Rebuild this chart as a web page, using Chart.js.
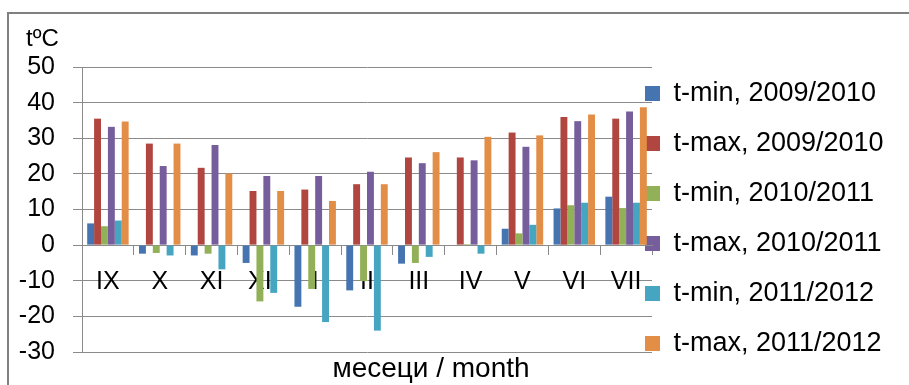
<!DOCTYPE html>
<html>
<head>
<meta charset="utf-8">
<script src="https://cdn.jsdelivr.net/npm/chart.js@4/dist/chart.umd.min.js"></script>
<style>
  html, body { margin: 0; padding: 0; background: #ffffff; }
  #wrap { width: 909px; height: 385px; }
</style>
</head>
<body>
<div id="wrap"><canvas id="c" width="909" height="385"></canvas></div>
<script>
// ---- data ----
const months = ['IX', 'X', 'XI', 'XII', 'I', 'II', 'III', 'IV', 'V', 'VI', 'VII'];
const seriesNames = ['t-min, 2009/2010', 't-max, 2009/2010', 't-min, 2010/2011',
                     't-max, 2010/2011', 't-min, 2011/2012', 't-max, 2011/2012'];
const tmin0910 = [6.1, -2.4, -2.9, -5.0, -17.3, -12.7, -5.2, 0, 4.6, 10.3, 13.6];
const tmax0910 = [35.5, 28.5, 21.7, 15.2, 15.6, 17.1, 24.6, 24.6, 31.6, 36.0, 35.5];
const tmin1011 = [5.3, -2.2, -2.4, -15.8, -12.3, -10.1, -5.0, 0.3, 3.3, 11.2, 10.4];
const tmax1011 = [33.2, 22.2, 28.1, 19.4, 19.4, 20.6, 23.0, 23.8, 27.6, 34.8, 37.5];
const tmin1112 = [6.9, -2.9, -6.8, -13.4, -21.6, -24.0, -3.3, -2.4, 5.7, 11.9, 11.9];
const tmax1112 = [34.7, 28.5, 20.1, 15.2, 12.4, 17.1, 26.1, 30.4, 30.8, 36.7, 38.7];
const yTickMin = -30;
const yTickMax = 50;
const yTickStep = 10;
const yUnitLabel = 't\u00BAC';
const xTitle = 'месеци / month';

// ---- styles ----
const colors = ['#4674B0', '#B0463F', '#92B057', '#765D9C', '#46A5C1', '#E38E47'];
const FONT = "'Liberation Sans', Arial, sans-serif";
const GRID = '#8a8a8a';

const allSeries = [tmin0910, tmax0910, tmin1011, tmax1011, tmin1112, tmax1112];
const datasets = allSeries.map((d, i) => ({
  label: seriesNames[i],
  data: d,
  backgroundColor: colors[i],
  borderWidth: 0,
  categoryPercentage: 0.8,
  barPercentage: 1.0
}));

// frame + free texts (unit label and x-axis title)
const decor = {
  id: 'decor',
  beforeDraw(chart) {
    const ctx = chart.ctx;
    ctx.save();
    ctx.strokeStyle = '#808080';
    ctx.lineWidth = 2;
    ctx.strokeRect(8, 13, 940, 420);
    ctx.restore();
  },
  afterDraw(chart) {
    const ctx = chart.ctx;
    ctx.save();
    ctx.fillStyle = '#000';
    ctx.textBaseline = 'alphabetic';
    ctx.font = '24px ' + FONT;
    ctx.textAlign = 'left';
    ctx.fillText(yUnitLabel, 26, 46);
    ctx.font = '28px ' + FONT;
    ctx.textAlign = 'center';
    ctx.fillText(xTitle, 431, 377);
    ctx.restore();
  }
};

// nudge legend so its boxes sit just over the plot's right edge like the reference
const legendNudge = {
  id: 'legendNudge',
  afterLayout(chart) {
    const lg = chart.legend;
    if (!lg) return;
    const pad = lg.options.labels.padding;
    const dx = (chart.chartArea.right - 7) - (lg.left + pad);
    const dy = 218.5 - (lg.top + lg.bottom) / 2;
    lg.left += dx;
    lg.right = chart.width;
    lg.width = lg.right - lg.left;
    lg.top += dy; lg.bottom += dy;
  }
};

new Chart(document.getElementById('c'), {
  type: 'bar',
  data: { labels: months, datasets: datasets },
  plugins: [decor, legendNudge],
  options: {
    responsive: false,
    animation: false,
    devicePixelRatio: 1,
    layout: { padding: { top: 0, bottom: 0, left: 8, right: 0 } },
    font: { family: FONT },
    plugins: {
      // empty spacer boxes that reserve the room above and below the plot
      title: { display: true, text: '', font: { size: 10 }, padding: { top: 55, bottom: 0 } },
      subtitle: { display: true, position: 'bottom', text: '', font: { size: 10 }, padding: { top: 21, bottom: 0 } },
      tooltip: { enabled: false },
      legend: {
        position: 'right',
        align: 'center',
        maxWidth: 257,
        labels: {
          font: { family: FONT, size: 27 },
          color: '#000',
          boxWidth: 15,
          boxHeight: 15,
          padding: 23
        }
      }
    },
    scales: {
      y: {
        min: yTickMin,
        max: yTickMax,
        afterFit(scale) { scale.width = 74; },
        ticks: {
          stepSize: yTickStep,
          font: { family: FONT, size: 25 },
          color: '#000',
          padding: 18
        },
        grid: {
          color: GRID,
          lineWidth: 1,
          tickLength: 9,
          drawTicks: true
        },
        border: { display: true, color: GRID, width: 1 }
      },
      x: {
        type: 'category',
        position: { y: 0 },
        z: 1,
        offset: true,
        ticks: {
          font: { family: FONT, size: 25 },
          color: '#000',
          padding: 13,
          maxRotation: 0,
          autoSkip: false
        },
        grid: {
          display: true,
          offset: true,
          drawOnChartArea: false,
          drawTicks: true,
          tickLength: 9,
          color: GRID
        },
        border: { display: true, color: GRID, width: 1 }
      }
    }
  }
});
</script>
</body>
</html>
